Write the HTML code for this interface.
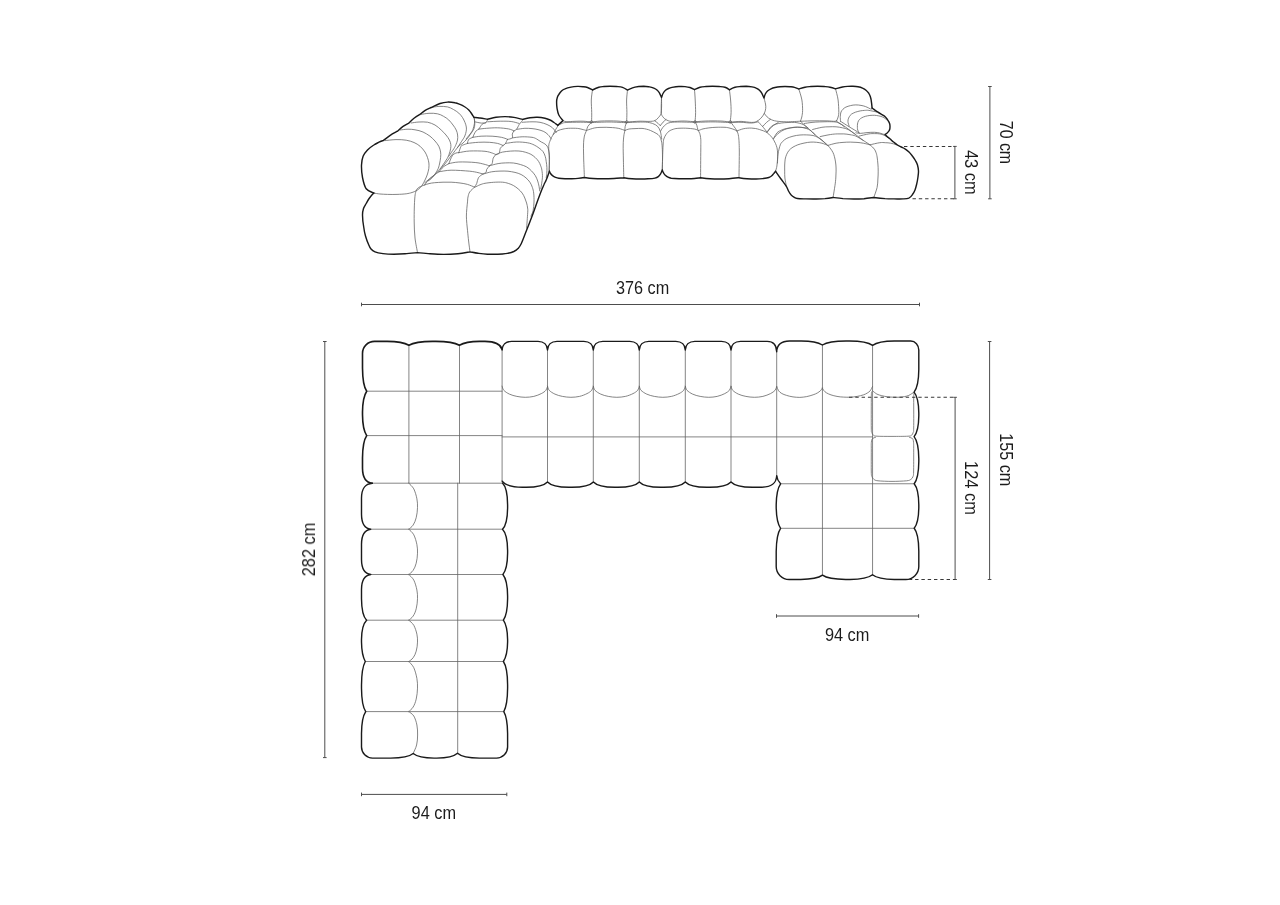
<!DOCTYPE html>
<html lang="en">
<head>
<meta charset="utf-8">
<title>Sofa dimensions</title>
<style>
html,body{margin:0;padding:0;background:#fff;}
body{width:1280px;height:905px;overflow:hidden;font-family:"Liberation Sans",sans-serif;}
svg{display:block;}
.k{fill:none;stroke:#1a1a1a;stroke-width:1.6;stroke-linecap:round;stroke-linejoin:round;}
.p{fill:none;stroke:#1a1a1a;stroke-width:1.42;stroke-linecap:round;stroke-linejoin:round;}
.n{fill:none;stroke:#626262;stroke-width:0.78;stroke-linecap:round;stroke-linejoin:round;}
.d{fill:none;stroke:#4d4d4d;stroke-width:1;}
.s{fill:none;stroke:#383838;stroke-width:1.05;stroke-dasharray:3.4 2.9;}
.t{opacity:.999;}
text{font-family:"Liberation Sans",sans-serif;fill:#1c1c1c;}
</style>
</head>
<body>
<svg width="1280" height="905" viewBox="0 0 1280 905">
<rect width="1280" height="905" fill="#ffffff"/>
<g class="n">
<path d="M408.9,345.3L408.9,483.2"/>
<path d="M459.5,345.3L459.5,483.2"/>
<path d="M366.7,391.2L502.1,391.2"/>
<path d="M366.7,435.6L502.1,435.6"/>
<path d="M372.3,483.2L502.5,483.2"/>
<path d="M502.1,350L502.1,481.2"/>
<path d="M547.5,350L547.5,481.9"/>
<path d="M593.3,350L593.3,481.9"/>
<path d="M639.3,350L639.3,481.9"/>
<path d="M685.3,350L685.3,481.9"/>
<path d="M731,350L731,481.9"/>
<path d="M776.7,351.8L776.7,476"/>
<path d="M502.1,436.9L872.5,436.9"/>
<path d="M502.1,386.1C502.4,386.8 502.6,389 503.8,390.3C505,391.6 507.2,393.1 509.4,394.1C511.6,395.1 514.2,395.9 516.9,396.4C519.5,396.9 522.5,397.3 525.3,397.3C528.1,397.3 531.1,397 533.8,396.4C536.5,395.8 539.3,394.6 541.3,393.6C543.3,392.6 544.9,391.5 545.9,390.3C546.9,389.1 547.2,387 547.5,386.4"/>
<path d="M547.5,386.1C547.8,386.8 548,389 549.2,390.3C550.4,391.6 552.7,393.1 554.9,394.1C557.1,395.1 559.8,395.9 562.4,396.4C565.1,396.9 568.1,397.3 570.9,397.3C573.7,397.3 576.8,397 579.5,396.4C582.2,395.8 585,394.6 587,393.6C589.1,392.6 590.6,391.5 591.7,390.3C592.7,389.1 593,387 593.3,386.4"/>
<path d="M593.3,386.1C593.6,386.8 593.8,389 595,390.3C596.3,391.6 598.5,393.1 600.7,394.1C602.9,395.1 605.6,395.9 608.3,396.4C611,396.9 614,397.3 616.8,397.3C619.7,397.3 622.7,397 625.4,396.4C628.1,395.8 631,394.6 633,393.6C635.1,392.6 636.6,391.5 637.7,390.3C638.7,389.1 639,387 639.3,386.4"/>
<path d="M639.3,386.1C639.6,386.8 639.8,389 641,390.3C642.3,391.6 644.5,393.1 646.7,394.1C648.9,395.1 651.6,395.9 654.3,396.4C657,396.9 660,397.3 662.8,397.3C665.7,397.3 668.7,397 671.4,396.4C674.1,395.8 677,394.6 679,393.6C681.1,392.6 682.6,391.5 683.7,390.3C684.7,389.1 685,387 685.3,386.4"/>
<path d="M685.3,386.1C685.6,386.8 685.8,389 687,390.3C688.2,391.6 690.5,393.1 692.6,394.1C694.8,395.1 697.5,395.9 700.2,396.4C702.9,396.9 705.8,397.3 708.7,397.3C711.5,397.3 714.5,397 717.2,396.4C719.9,395.8 722.7,394.6 724.8,393.6C726.8,392.6 728.3,391.5 729.4,390.3C730.4,389.1 730.7,387 731,386.4"/>
<path d="M731,386.1C731.3,386.8 731.5,389 732.7,390.3C733.9,391.6 736.2,393.1 738.3,394.1C740.5,395.1 743.2,395.9 745.9,396.4C748.6,396.9 751.5,397.3 754.4,397.3C757.2,397.3 760.2,397 762.9,396.4C765.6,395.8 768.4,394.6 770.5,393.6C772.5,392.6 774,391.5 775.1,390.3C776.1,389.1 776.4,387 776.7,386.4"/>
<path d="M776.9,386.8C777.2,387.5 777.8,389.7 778.6,390.8C779.4,391.9 780.5,392.7 781.8,393.5C783.1,394.3 784.7,394.8 786.6,395.4C788.5,396 790.8,396.6 793,396.9C795.2,397.2 797.5,397.4 799.8,397.4C802.1,397.3 804.5,397 806.7,396.6C808.9,396.2 811.3,395.4 813.1,394.8C814.9,394.2 816.1,393.7 817.3,393C818.5,392.3 819.5,391.6 820.4,390.8C821.2,390 822.1,388.5 822.4,388"/>
<path d="M822.4,388C822.6,388.4 823.1,389.7 823.8,390.5C824.5,391.3 825.2,392.1 826.4,392.8C827.6,393.5 829.2,394.3 831,394.9C832.8,395.5 834.9,396 837,396.4C839.1,396.8 841.3,397 843.5,397.1C845.7,397.2 848,397.3 850.3,397.2C852.6,397.1 855,396.8 857.2,396.4C859.4,396 861.9,395.4 863.6,394.8C865.3,394.2 866.2,393.7 867.3,393C868.4,392.3 869.3,391.9 870.2,390.8C871.1,389.7 872.1,387.2 872.5,386.5"/>
<path d="M872.6,390.8C873.3,391.4 875.4,393.3 876.9,394.1C878.4,394.9 880,395.2 881.8,395.7C883.6,396.1 885.5,396.6 887.5,396.8C889.5,397.1 891.5,397.1 893.5,397.2C895.5,397.3 897.7,397.3 899.5,397.2C901.3,397.1 903,396.9 904.5,396.6C906,396.3 907.2,396.1 908.8,395.4C910.4,394.6 913.2,392.7 914.1,392.1"/>
<path d="M822.45,345L822.45,575.2"/>
<path d="M872.55,345.3L872.55,574.8"/>
<path d="M780.6,483.75L914.2,483.75"/>
<path d="M780.6,528.3L914.2,528.3"/>
<path d="M871.5,392C871.5,393.3 871.3,394 871.3,400C871.3,406 871.2,422.6 871.3,428C871.4,433.4 871.4,431.3 871.8,432.5C872.2,433.7 872.6,434.7 873.5,435.3C874.4,435.9 873.9,436 877,436.2C880.1,436.4 886.8,436.4 892,436.4C897.2,436.4 904.8,436.4 908,436.2C911.2,436 910.6,435.9 911.5,435.3C912.4,434.7 912.8,433.7 913.2,432.5C913.6,431.3 913.6,433.4 913.7,428C913.8,422.6 913.7,405.8 913.7,400C913.7,394.2 913.9,394.2 913.9,393"/>
<path d="M875.5,437.4C875,437.6 873.2,437.8 872.5,438.6C871.8,439.4 871.6,440.1 871.4,442C871.2,443.9 871.3,445 871.3,450C871.3,455 871.2,467.6 871.3,472C871.4,476.4 871.5,475.3 871.9,476.5C872.3,477.7 872.8,478.6 873.8,479.3C874.8,480 875,480.5 878,480.8C881,481.1 887.2,481.4 892,481.4C896.8,481.4 903.3,481.1 906.5,480.8C909.7,480.5 909.9,480 911,479.3C912.1,478.6 912.6,477.7 913,476.5C913.4,475.3 913.5,476.4 913.6,472C913.7,467.6 913.7,455 913.7,450C913.7,445 913.7,443.9 913.5,442C913.3,440.1 913.2,439.4 912.5,438.6C911.8,437.8 910,437.6 909.5,437.4"/>
<path d="M457.7,483.2L457.7,753.2"/>
<path d="M370.7,529.2L502.5,529.2"/>
<path d="M370.8,574.5L502.9,574.5"/>
<path d="M366.6,620.2L503.4,620.2"/>
<path d="M365.3,661.5L503.4,661.5"/>
<path d="M365.7,711.6L503.8,711.6"/>
<path d="M408.8,483.2C409.6,484.1 412.4,486.3 413.8,488.9C415.1,491.5 416.3,495.7 416.9,498.8C417.5,502 417.6,504.4 417.5,507.6C417.4,510.7 417,514.8 416.2,517.7C415.5,520.6 414.4,523.1 413.1,525.1C411.9,527 409.5,528.5 408.8,529.2"/>
<path d="M408.8,529.2C409.6,530.1 412.4,532.2 413.8,534.8C415.1,537.3 416.3,541.5 416.9,544.6C417.5,547.7 417.6,550.1 417.5,553.2C417.4,556.3 417,560.3 416.2,563.2C415.5,566 414.4,568.5 413.1,570.4C411.9,572.3 409.5,573.8 408.8,574.5"/>
<path d="M408.8,574.5C409.6,575.4 412.4,577.5 413.8,580.1C415.1,582.7 416.3,586.9 416.9,590C417.5,593.1 417.6,595.6 417.5,598.7C417.4,601.8 417,605.9 416.2,608.8C415.5,611.7 414.4,614.2 413.1,616.1C411.9,618 409.5,619.5 408.8,620.2"/>
<path d="M408.8,620.2C409.6,621 412.4,622.9 413.8,625.3C415.1,627.6 416.3,631.4 416.9,634.2C417.5,637 417.6,639.3 417.5,642.1C417.4,644.9 417,648.6 416.2,651.2C415.5,653.8 414.4,656.1 413.1,657.8C411.9,659.5 409.5,660.9 408.8,661.5"/>
<path d="M408.8,661.5C409.6,662.5 412.4,664.8 413.8,667.7C415.1,670.5 416.3,675.1 416.9,678.5C417.5,681.9 417.6,684.6 417.5,688.1C417.4,691.5 417,695.9 416.2,699.1C415.5,702.2 414.4,705 413.1,707.1C411.9,709.2 409.5,710.8 408.8,711.6"/>
<path d="M408.8,711.6C409.6,712.3 412.4,713.8 413.8,716C415.1,718.2 416.3,721.8 416.9,725C417.5,728.2 417.7,731.7 417.6,735C417.6,738.3 417.4,741.9 416.6,745C415.9,748.1 413.7,752.1 413.1,753.5"/>
<path d="M385,140.6C386.8,140.4 392.5,139.7 396,139.6C399.5,139.5 403.2,139.7 406.2,140.2C409.2,140.7 411.7,141.5 414,142.5C416.3,143.5 418.2,144.7 420,146.2C421.8,147.8 423.8,150.1 425,152C426.2,153.9 426.9,155.7 427.5,157.5C428.1,159.3 428.7,161.2 428.9,163C429.1,164.8 429,166.7 428.8,168.5C428.5,170.3 428.1,172.1 427.5,174C426.9,175.9 425.9,178.1 425,180C424.1,181.9 423.2,183.8 422,185.5C420.8,187.2 419.2,188.8 417.5,190C415.8,191.2 413.9,191.9 412,192.5C410.1,193.1 408.8,193.4 406.2,193.8C403.8,194.1 400.1,194.3 397,194.4C393.9,194.5 390.3,194.5 387.5,194.4C384.7,194.3 382.3,194.2 380,194C377.7,193.8 374.8,193.2 373.8,193.1"/>
<path d="M400,130C401.3,129.9 405.5,129.2 408,129.2C410.5,129.2 412.5,129.3 415,129.8C417.5,130.2 420.5,130.9 423,132C425.5,133.1 428,134.8 430,136.2C432,137.8 433.5,139.3 435,141C436.5,142.7 437.8,144.4 438.8,146.2C439.7,148.1 440.3,150.1 440.6,152C440.9,153.9 440.8,155.5 440.6,157.5C440.4,159.5 440,161.9 439.5,164C439,166.1 438.7,167.8 437.5,170C436.3,172.2 434.1,175.7 432.5,177.5C430.9,179.3 428.8,180.4 428,181"/>
<path d="M411.2,123C412.5,122.8 416.3,122.1 419,122C421.7,121.9 424.8,121.8 427.5,122.2C430.2,122.8 432.7,123.7 435,125C437.3,126.3 439.4,128.3 441.2,130C443.1,131.7 444.6,133.3 446,135C447.4,136.7 448.6,138.4 449.4,140C450.2,141.6 450.6,143 450.8,144.5C451,146 450.9,147.1 450.6,148.8C450.3,150.4 449.7,152.6 449,154.5C448.3,156.4 447.8,157.6 446.2,160C444.8,162.4 441,167.5 440,169"/>
<path d="M421.2,114.4C422.5,114.2 426.3,113.4 429,113.3C431.7,113.2 435.1,113.2 437.5,113.8C439.9,114.2 441.6,115.3 443.5,116.3C445.4,117.3 447.2,118.5 448.8,120C450.3,121.5 451.8,123.3 453,125C454.2,126.7 455.5,128.3 456.2,130C457,131.7 457.4,133.3 457.6,135C457.8,136.7 457.8,138.4 457.5,140C457.2,141.6 456.6,143 456,144.5C455.4,146 455,146.8 453.8,148.8C452.5,150.7 449.6,155 448.8,156.2"/>
<path d="M431.2,107.5C432.5,107.3 436.3,106.5 439,106.4C441.7,106.3 445.1,106.4 447.5,106.9C449.9,107.4 451.6,108.5 453.5,109.5C455.4,110.5 457.2,111.8 458.8,113.1C460.2,114.4 461.5,115.9 462.5,117.5C463.5,119.1 464.4,120.9 465,122.5C465.6,124.1 466.1,125.5 466.3,127C466.5,128.5 466.5,129.8 466.2,131.2C466,132.8 465.4,134.5 464.8,136C464.2,137.5 463.7,138.1 462.5,140C461.3,141.9 458.3,146.2 457.5,147.5"/>
<path d="M473.8,116.9C473.9,117.4 474.5,118.9 474.6,120C474.7,121.1 474.6,122.3 474.4,123.8C474.2,125.2 473.7,127 473.2,128.5C472.7,130 472.4,130.8 471.2,132.5C470.1,134.2 467.1,137.7 466.2,138.8"/>
<path d="M474,117.1C474.1,118.2 474.8,121.7 474.8,123.7C474.8,125.7 474.5,127.3 473.8,129.1C473,130.9 471.3,132.9 470.2,134.6C469.1,136.2 468.3,137.4 466.9,139C465.5,140.6 463.4,142.7 462,143.9C460.6,145.1 460.6,144.1 458.8,146.1C456.9,148.1 453.7,152.6 451.1,155.9C448.5,159.2 446.1,162.7 443.4,165.8C440.7,168.9 437.8,171.7 434.7,174.5C431.6,177.3 426.4,181.3 424.8,182.7"/>
<path d="M487.7,119.3C487.4,119.8 486.9,121.8 486,122.6C485.1,123.4 483.4,123.1 482.2,124.2C481,125.3 479.4,128.3 478.9,129.1M478.9,129.1C478.4,129.4 477,130 476.2,130.8C475.4,131.6 474.8,132.9 474.2,134C473.6,135.1 473.1,136.8 472.9,137.3M472.9,137.3C472.2,137.7 469.5,138.5 468.6,139.5C467.7,140.5 467.7,142.8 467.5,143.4M467.5,143.4C466.8,143.7 464.2,144.5 463.1,145C462,145.5 461.6,145.2 460.9,146.5C460.2,147.8 459.1,151.7 458.8,152.7M458.8,152.7C458.3,152.8 457.1,152.5 456,153C454.9,153.5 453.4,154.1 452.2,155.9C451,157.7 449.4,162.3 448.9,163.6M448.9,163.6C448,164.2 445,165.5 443.4,166.9C441.8,168.3 439.7,171 439,171.8M439,171.8C438.1,172.4 435.4,174.2 433.6,175.6C431.8,177 429.5,178.9 428,180.5C426.5,182.1 425.3,184.2 424.8,184.9"/>
<path d="M474.6,121.8C475.8,122 479.8,123 481.7,123.1C483.6,123.2 485.3,122.7 486,122.6"/>
<path d="M523.2,119.6C522.6,120.4 520.5,122.6 519.4,124.2C518.3,125.8 517.6,128 516.7,129.1C515.8,130.2 514.4,130.7 513.9,131M513.9,131C513.6,131.5 512.6,132.8 512.3,134C512,135.2 513.1,137 512.3,137.9C511.5,138.8 508.2,139.2 507.4,139.5M507.4,139.5C507,140.2 505.9,142.9 505.2,143.9C504.5,144.9 503.4,145.2 503,145.5M503,145.5C502.6,146 500.9,147 500.3,148.3C499.7,149.6 499.9,152.1 499.2,153.2C498.5,154.2 496.4,154.4 495.9,154.6M495.9,154.6C495.4,155.2 493.8,156.6 493.2,158.1C492.6,159.6 492.7,162.3 492.1,163.6C491.5,164.9 489.8,165.4 489.4,165.8M489.4,165.8C488.9,166.4 487.2,168.5 486.6,169.6C486.1,170.7 486.7,171.6 486.1,172.3C485.5,173 483.4,173.7 482.8,174M482.8,174C482.1,174.6 479.4,176.2 478.4,177.8C477.4,179.4 477.4,181.8 476.8,183.3C476.2,184.9 475,186.5 474.6,187.1"/>
<path d="M487.7,121.8C489.8,121.7 496.4,121.2 500.3,121.2C504.2,121.2 508.1,121.1 511.2,121.5C514.3,121.9 517.6,123.1 518.9,123.4"/>
<path d="M478.9,129.1C480.2,129 483.5,128.5 486.6,128.3C489.7,128.1 493.9,127.7 497.5,127.8C501.1,127.9 505.8,128.4 508.5,128.9C511.2,129.4 513,130.5 513.9,130.8"/>
<path d="M472.9,137.3C474.3,137.1 477.9,136.4 481.1,136.2C484.3,136 488.7,136 492.1,136.2C495.5,136.4 498.8,136.8 501.4,137.3C503.9,137.8 506.4,138.9 507.4,139.2"/>
<path d="M467.5,143.4C469.3,143.2 474.8,142.5 478.4,142.3C482,142.1 486.1,142.1 489.3,142.3C492.5,142.5 495.2,142.9 497.5,143.4C499.8,143.9 502.1,145.2 503,145.5"/>
<path d="M458.8,152.7C460.6,152.4 465.3,151.2 469.7,151C474.1,150.8 481.2,150.9 485,151.3C488.8,151.7 490.8,152.6 492.6,153.2C494.4,153.8 495.3,154.4 495.9,154.6"/>
<path d="M448.9,163.6C450.5,163.3 454.4,162.2 458.8,162C463.1,161.8 471,162.1 475.2,162.5C479.4,162.9 481.6,163.6 484,164.2C486.4,164.8 488.5,165.5 489.4,165.8"/>
<path d="M439,171.8C441,171.5 446,170.3 451.1,170.2C456.2,170.1 465.2,170.8 469.7,171.2C474.2,171.7 475.8,172.1 478,172.6C480.2,173.1 482,173.8 482.8,174"/>
<path d="M424.8,184.9C425.5,184.7 427.4,184 429,183.6C430.6,183.2 432.4,182.9 434.7,182.7C437,182.5 440.3,182.3 443,182.2C445.7,182.1 448.3,182.1 451.1,182.2C453.9,182.3 457.3,182.6 460,183C462.7,183.4 465.1,183.7 467.5,184.4C469.9,185.1 473.4,186.7 474.6,187.1"/>
<path d="M522.1,122.3C523.8,122.2 529,121.8 532,121.8C535,121.8 537.5,121.8 540,122.3C542.5,122.8 544.9,123.6 547,124.5C549.1,125.4 551,126.5 552.5,127.8C554,129.1 555.6,131.7 556.2,132.5"/>
<path d="M516.7,129.4C518.1,129.2 522.4,128.4 524.9,128.3C527.4,128.2 529.8,128.4 532,128.6C534.2,128.8 536,129.1 538,129.6C540,130.1 542.1,130.7 543.8,131.5C545.4,132.3 546.7,133.3 548,134.6C549.3,135.8 550.8,138.3 551.3,139"/>
<path d="M512.3,137.9C513.9,137.7 518.8,136.9 522.1,136.8C525.4,136.7 529.6,137 532,137.3C534.4,137.7 535.2,138.2 536.5,138.9C537.8,139.6 538.4,140.2 540,141.2C541.6,142.3 544.8,143.5 546.2,145C547.7,146.5 548.1,148.2 548.6,150C549.1,151.8 549.4,153.7 549.5,155.9C549.6,158.1 549.5,160.6 549.4,163C549.3,165.4 549.1,169 549,170.2"/>
<path d="M505.7,143.4C507.5,143.2 513.1,142.1 516.7,142C520.4,141.9 524.7,142.3 527.6,142.8C530.5,143.3 532.3,144.1 534.2,145C536.1,145.9 537.5,146.9 539,148C540.5,149.1 542,150.2 543,151.6C544,153 544.7,154.7 545.2,156.3C545.7,157.9 546,159.5 546.2,161.4C546.5,163.3 546.8,165.5 546.9,167.5C547,169.5 546.9,171.7 546.8,173.4C546.7,175.1 546.3,177.1 546.2,177.8"/>
<path d="M496.5,154.3C497.5,153.9 500.2,152.6 502.5,152.1C504.8,151.6 507.8,151.3 510.5,151.1C513.2,150.9 516.4,150.8 518.9,151C521.4,151.2 523.3,151.6 525.3,152.2C527.3,152.8 529.2,153.4 530.9,154.3C532.5,155.2 533.9,156.3 535.2,157.5C536.5,158.7 537.7,160 538.6,161.4C539.5,162.8 540.2,164.3 540.7,165.8C541.2,167.3 541.6,168.2 541.9,170.2C542.2,172.2 542.6,174.7 542.4,177.8C542.2,180.9 541.1,186.9 540.8,188.8"/>
<path d="M489.4,165.8C490.8,165.4 495.4,164.1 498.1,163.6C500.8,163.1 502.9,163 505.5,162.9C508.1,162.8 510.9,162.7 513.4,163C515.9,163.3 518.1,163.8 520.3,164.5C522.5,165.2 524.8,165.8 526.6,166.9C528.5,168 530,169.4 531.4,170.8C532.8,172.2 534.2,173.9 535.3,175.6C536.3,177.3 537.1,179.2 537.7,181C538.3,182.8 538.8,184.9 539.1,186.6C539.4,188.2 539.6,190.2 539.7,190.9"/>
<path d="M483.4,174C484.8,173.6 488.8,172.3 491.6,171.8C494.4,171.3 497.3,171.2 500,171.1C502.7,171 505.5,171 508,171.2C510.5,171.5 512.8,171.9 515,172.4C517.2,172.9 519.3,173.6 521.1,174.5C522.9,175.4 524.5,176.6 526,177.9C527.5,179.2 528.8,180.6 529.9,182.2C531,183.8 531.8,185.7 532.4,187.5C533,189.3 533.4,190.7 533.7,193.1C534,195.5 534.1,199.1 534,202C533.9,204.9 533.6,208.2 533.1,210.6C532.6,212.9 531.3,215.2 530.9,216.1"/>
<path d="M417.5,252.5C417.1,250.1 415.6,243.1 415,238C414.4,232.9 414.3,227 414.2,222C414.1,217 414.2,212 414.3,208C414.4,204 414.6,200.6 414.8,198C415,195.4 415.2,194 415.6,192.5C416,191 416.4,189.8 417.2,188.8C418,187.8 419.2,187.1 420.5,186.5C421.8,185.9 424.1,185.2 424.8,184.9"/>
<path d="M474.6,187.1C473.8,187.9 470.8,190.3 469.7,192C468.6,193.7 468.4,195.3 468,197C467.6,198.7 467.8,198.7 467.5,201.9C467.2,205.1 466.4,211.4 466.4,216.1C466.4,220.8 467.1,226.2 467.5,230.3C467.9,234.5 468.2,237.4 468.6,241C469,244.6 469.8,250.1 470,251.9"/>
<path d="M475.2,187.1C476,186.7 478.4,185.4 480,184.8C481.6,184.2 482.8,183.7 485,183.3C487.2,182.9 490.6,182.5 493.5,182.3C496.4,182.1 500,182 502.5,182.2C505,182.4 506.5,182.8 508.3,183.4C510.1,184 511.8,184.6 513.4,185.5C515,186.4 516.7,187.6 518.2,188.9C519.7,190.2 521.1,191.6 522.2,193.1C523.3,194.6 524.1,196.3 524.8,198C525.5,199.7 526.1,201.3 526.6,203C527.1,204.7 527.4,206.4 527.6,208C527.8,209.6 527.9,209.5 527.7,212.8C527.5,216.2 526.8,225.6 526.6,228.1"/>
<path d="M592.5,90C592.3,91.7 591.4,96.2 591.3,100C591.2,103.8 591.7,109 591.7,112.5C591.8,116 591.6,119.6 591.6,121"/>
<path d="M627.5,90C627.4,91.7 626.7,96.2 626.6,100C626.5,103.8 626.9,109 626.9,112.5C626.9,116 626.7,119.6 626.7,121"/>
<path d="M694.5,89.7C694.6,91.4 695.1,96.2 695.2,100C695.4,103.8 695.6,109 695.6,112.5C695.6,116 695.2,119.6 695.1,121"/>
<path d="M729.4,89.8C729.6,91.5 730.3,96.2 730.6,100C730.9,103.8 731.2,109 731.1,112.5C731,116 730.4,119.6 730.3,121"/>
<path d="M798.8,89C799.3,90.8 801.3,96.4 801.9,100C802.5,103.6 802.6,107.7 802.6,110.5C802.6,113.3 802.1,115.2 801.8,117C801.4,118.8 800.7,120.3 800.5,121"/>
<path d="M835.5,88.8C835.9,90.7 837.6,96 838.1,100C838.6,104 838.8,109.5 838.8,112.5C838.7,115.5 838.2,116.6 837.8,118C837.4,119.4 836.7,120.5 836.5,121"/>
<path d="M589.9,121.8L591.5,120.5L593.1,121.8L591.5,123.1Z"/>
<path d="M625.1,121.8L626.7,120.5L628.3,121.8L626.7,123.1Z"/>
<path d="M693.5,121.8L695.1,120.5L696.7,121.8L695.1,123.1Z"/>
<path d="M728.8,121.8L730.4,120.5L732,121.8L730.4,123.1Z"/>
<path d="M661.5,97.5C661.5,98.9 661.3,103.3 661.2,106C661.1,108.7 661.5,111.6 661,113.6C660.5,115.6 659.2,116.6 658.2,117.8C657.2,119 656.2,120.1 654.7,120.7C653.2,121.3 651.5,121.3 649,121.4C646.5,121.5 643.7,121.1 640,121.2C636.3,121.3 628.9,121.9 626.7,122"/>
<path d="M661.5,97.5C661.5,98.9 661.6,103.3 661.6,106C661.6,108.7 661.1,111.8 661.4,113.6C661.6,115.4 662.4,116.1 663.1,117.1C663.9,118.1 664.5,118.9 665.9,119.6C667.3,120.3 668.5,121.2 671.6,121.4C674.7,121.6 680.3,120.9 684.2,121C688.1,121.1 693.3,121.7 695.1,121.8"/>
<path d="M654.7,120.7C655.3,121.2 657.3,122.7 658.2,123.5C659.1,124.3 659.9,125.2 660.3,125.6M665.9,119.6C665.4,120 664,121.1 663.1,122.1C662.2,123.1 660.8,125 660.3,125.6"/>
<path d="M764,98C764.2,99 765.2,102.2 765.5,104C765.8,105.8 765.9,106.9 765.7,108.5C765.5,110.1 765.1,111.8 764.3,113.4C763.5,115 762.1,117 760.8,118.3C759.5,119.6 758.1,120.7 756.6,121.4C755.1,122.1 754.2,122.4 751.6,122.4C749,122.4 744.6,121.5 741.1,121.4C737.6,121.4 732.2,122 730.4,122.1"/>
<path d="M764.3,113.4C764.8,114 766,115.9 767.1,116.9C768.2,117.9 769.1,118.6 770.6,119.3C772.1,120 773.5,120.7 776.2,121.1C779,121.5 782.8,121.8 786.8,121.8C790.8,121.8 798.2,121.3 800.5,121.2"/>
<path d="M758,121.8C758.7,122.5 760.7,124.2 762.2,126C763.7,127.8 766.3,131.2 767.1,132.3"/>
<path d="M770.6,119.3C769.9,119.8 767.7,121.3 766.4,122.5C765.1,123.7 763.5,125.7 762.9,126.3"/>
<path d="M778.4,122.3C777.3,123 773.9,125 772,126.7C770.1,128.4 767.9,131.4 767.1,132.3"/>
<path d="M562.6,120.3C563.2,120.5 564,121.4 566.1,121.6C568.2,121.8 572.2,121.4 575,121.3C577.8,121.2 580.2,121.1 583,121.2C585.8,121.3 590.1,121.9 591.5,122"/>
<path d="M591.5,122C592.9,121.8 597.1,121.3 600,121.1C602.9,120.9 606,120.9 609,120.9C612,120.9 615,120.9 618,121.1C621,121.3 625.2,121.8 626.7,122"/>
<path d="M695.1,121.8C696.6,121.7 701,121.2 704,121.1C707,120.9 710,120.9 713,120.9C716,120.9 719.1,120.9 722,121.1C724.9,121.3 729,121.9 730.4,122.1"/>
<path d="M558,125.6C558.7,125.2 560.6,123.9 562,123.4C563.4,122.9 563.1,122.7 566.1,122.5C569.1,122.3 576,122.2 580.2,122.2C584.4,122.2 589.5,122.5 591.4,122.6"/>
<path d="M591.4,122.6C594.3,122.5 603.1,122 609,122C614.9,122 623.7,122.6 626.6,122.7"/>
<path d="M626.6,122.7C628,122.6 631.9,122.3 635,122.2C638.1,122.1 642.6,121.9 645.5,122.1C648.4,122.3 650.6,122.8 652.6,123.5C654.6,124.2 656.2,125 657.5,126.3C658.8,127.6 659.6,129.1 660.3,131.2C661,133.3 661.5,137.7 661.7,139"/>
<path d="M695.1,122.4C692.1,122.3 681.6,121.9 677.2,122C672.8,122.1 670.9,122.3 668.8,122.9C666.6,123.5 665.7,124.6 664.5,125.6C663.3,126.6 662.3,128.2 661.7,129.1C661.1,130 660.9,130.8 660.7,131.2"/>
<path d="M695.1,122.4C698.1,122.3 707.1,121.9 713,121.9C718.9,121.9 727.5,122.5 730.4,122.6"/>
<path d="M730.4,122.6C732.2,122.5 737.5,122.2 741,122.3C744.5,122.4 748.8,123.1 751.6,123C754.4,122.9 756.9,122 758,121.8"/>
<path d="M591.4,122.4C590.8,123.1 588.7,125 587.9,126.3C587.1,127.6 587.1,128.9 586.5,130.5C585.9,132.1 584.9,133.7 584.4,136.1C583.9,138.5 583.6,141 583.5,145C583.4,149 583.6,154.6 583.7,160C583.9,165.4 584.3,174.6 584.4,177.5"/>
<path d="M626.6,122.4C626.4,123.1 625.5,125 625.2,126.3C624.9,127.6 625,128.9 624.8,130.5C624.6,132.1 624.1,133.7 623.8,136.1C623.5,138.5 623.3,141 623.2,145C623.1,149 623.3,154.5 623.4,160C623.5,165.5 623.7,174.8 623.8,177.8"/>
<path d="M695.1,121.7C695.4,122.3 696.4,124.2 696.9,125.6C697.4,126.9 697.4,128.5 697.9,129.8C698.4,131.1 699.2,131.7 699.7,133.3C700.2,134.9 700.6,136.8 700.8,139.6C700.9,142.4 700.8,143.7 700.8,150C700.7,156.3 700.6,172.9 700.6,177.5"/>
<path d="M730.5,121.8C731.1,122.6 733,125.2 734.1,126.7C735.2,128.2 736.1,129.2 736.9,130.9C737.6,132.6 738.2,133.4 738.6,136.6C739,139.8 739.2,143.2 739.3,150C739.4,156.8 739,172.9 739,177.5"/>
<path d="M558,125.8C557.6,126.5 556.3,128.4 555.5,129.8C554.7,131.2 553.6,133.6 553.2,134.4"/>
<path d="M549.4,171C549.4,168.8 549.3,162.1 549.2,158C549.1,153.9 548.6,149.3 548.7,146.6C548.8,143.8 549.3,143.1 549.8,141.5C550.3,139.9 550.9,138.7 551.6,137.3C552.4,135.9 553.2,134.4 554.3,133.3C555.4,132.2 556.5,131.3 558,130.6C559.5,129.9 561.2,129.5 563,129.1C564.8,128.7 566.2,128.4 568.6,128.3C571,128.2 575.3,128.2 577.5,128.4C579.7,128.6 580.5,129 582,129.3C583.5,129.7 585.8,130.3 586.5,130.5"/>
<path d="M587.2,130.2C588.4,129.8 592.1,128.5 594.2,128C596.3,127.5 598,127.5 600,127.4C602,127.3 604.1,127.3 606.2,127.3C608.3,127.3 610.4,127.4 612.5,127.6C614.6,127.8 616.7,127.9 618.8,128.4C620.9,128.9 624.1,130.2 625.2,130.5"/>
<path d="M624.8,130.5C625.5,130.2 627.3,129.3 629,129C630.7,128.7 632.8,128.7 635,128.6C637.2,128.5 640.1,128.3 642,128.4C643.9,128.5 645.1,128.8 646.5,129.2C647.9,129.5 648.9,129.8 650.5,130.5C652.1,131.2 654.6,132.4 656.1,133.3C657.6,134.2 658.7,134.8 659.6,136.1C660.5,137.4 661,139.2 661.4,141C661.8,142.8 662,144.2 662.2,147C662.4,149.8 662.5,154.2 662.5,158C662.5,161.8 662.3,168 662.3,170"/>
<path d="M662.3,170C662.3,168 662.5,162.2 662.6,158C662.7,153.8 662.9,148.2 663.1,145C663.3,141.8 663.3,140.7 663.8,139C664.3,137.3 665.2,135.8 665.9,134.7C666.6,133.6 667.1,133 667.8,132.3C668.5,131.6 669.2,131 670.2,130.5C671.2,130 672.3,129.5 673.5,129.2C674.7,128.8 675.2,128.6 677.2,128.4C679.2,128.2 682.7,128.1 685.6,128.2C688.5,128.3 692.7,128.7 694.8,129.1C696.9,129.5 697.7,130.3 698.3,130.5"/>
<path d="M698.5,130.6C699.2,130.3 701.3,129.3 703,128.9C704.7,128.5 706.6,128.2 708.8,127.9C711,127.6 713.3,127.4 716,127.3C718.7,127.2 722.7,127.2 725,127.3C727.3,127.4 728.5,127.8 730,128.2C731.5,128.6 732.9,129 734.1,129.5C735.3,130 736.5,130.8 737,131"/>
<path d="M736.9,130.9C738,130.6 741.4,129.2 743.2,128.8C745,128.4 746.1,128.3 747.5,128.2C748.9,128.1 750.3,128 751.6,128.1C752.9,128.2 754.2,128.3 755.5,128.5C756.8,128.7 758.1,129.1 759.4,129.5C760.7,129.9 762,130.3 763.3,130.8C764.6,131.3 765.9,131.9 767.1,132.7C768.3,133.5 769.5,134.7 770.5,135.8C771.5,136.9 772.6,138.1 773.4,139.4C774.2,140.7 774.9,142.1 775.5,143.5C776.1,144.9 776.6,146.1 777,147.8C777.4,149.6 777.6,152 777.7,154C777.8,156 777.6,158 777.5,160C777.4,162 777.2,164.1 776.9,166C776.6,167.9 775.8,170.4 775.6,171.2"/>
<path d="M800.5,121.3C802.1,121.2 806.8,121 810,120.9C813.2,120.8 816.7,120.8 819.7,120.8C822.7,120.8 825.5,120.8 828,120.9C830.5,121 833.6,121.4 835,121.3C836.4,121.2 836.3,120.4 836.6,120.2"/>
<path d="M800.5,121.3C801.7,122.4 805.2,125.6 807.7,127.9C810.2,130.2 812.9,132.9 815.3,135C817.7,137.1 819.9,138.9 821.9,140.5C823.9,142.1 825.7,143.2 827.3,144.8C828.9,146.4 830.6,148.7 831.7,150.3C832.8,151.9 833.2,153 833.8,154.5C834.3,156 834.6,157.3 835,159.1C835.4,160.8 835.7,163 835.9,165C836.1,167 836.1,168.9 836.1,171.1C836.1,173.3 836,175.6 835.8,178C835.6,180.4 835.5,182.1 835,185.3C834.5,188.6 833.4,195.5 833.1,197.5"/>
<path d="M836.6,121.3C838.1,122.3 842.9,125.2 845.9,127.3C848.9,129.4 851.8,131.7 854.7,133.9C857.6,136.1 860.9,138.7 863.4,140.5C865.9,142.3 868.2,143.4 870,144.8C871.8,146.2 873.4,147.9 874.4,149.2C875.4,150.5 875.6,151.5 876.1,152.8C876.6,154.1 876.8,155 877.1,156.9C877.4,158.8 877.7,161.6 877.9,164C878.1,166.4 878.2,168.6 878.2,171.1C878.2,173.6 878.1,176.3 877.9,179C877.7,181.7 877.8,184.4 877.1,187.5C876.4,190.6 874.3,195.8 873.8,197.5"/>
<path d="M767.2,131.7C767.9,130.8 770.1,127.5 771.6,126.2C773.1,124.9 774.4,124.6 776,124.1C777.6,123.6 779.4,123.3 781.4,123C783.4,122.7 785.8,122.6 788,122.5C790.2,122.4 792.6,122.3 794.5,122.4C796.4,122.5 797.7,122.8 799.2,123.2C800.7,123.6 801.9,123.8 803.3,124.6C804.7,125.4 807,127.4 807.7,127.9"/>
<path d="M773.8,138.3C774.3,137.4 775.7,134.2 777,132.8C778.3,131.4 779.9,130.8 781.5,130.1C783.1,129.4 784.8,128.8 786.9,128.4C789,128 791.6,127.7 794,127.5C796.4,127.3 799.1,127.1 801.1,127.3C803.1,127.5 804.7,128 806.3,128.5C807.9,129.1 809.4,129.5 810.9,130.6C812.4,131.7 814.6,134.3 815.3,135"/>
<path d="M777.5,163C777.6,161.5 777.5,157 778,154C778.5,151 779.5,146.9 780.3,144.8C781.1,142.7 781.9,142.3 783,141.2C784.1,140.1 785.2,139.1 786.9,138.3C788.6,137.5 790.8,136.8 793,136.2C795.2,135.6 797.7,135.2 800,135C802.3,134.8 804.5,134.8 806.7,134.9C808.9,135 811.2,135.1 813.1,135.5C815,135.9 816.3,136.6 817.8,137.3C819.3,138 820.5,138.7 821.9,139.9C823.3,141.1 825.5,143.6 826.2,144.3"/>
<path d="M786.3,186C786.1,184.7 785.2,180.5 784.9,178C784.6,175.5 784.7,173.3 784.7,171.1C784.7,168.9 784.6,167 784.7,165C784.8,163 784.9,160.9 785.2,159.1C785.5,157.3 786.1,155.8 786.7,154.3C787.4,152.8 788.1,151.5 789.1,150.3C790.1,149.1 791.5,148 793,147.1C794.5,146.2 796,145.5 797.8,144.8C799.6,144.1 801.8,143.6 804,143.1C806.2,142.6 808.8,142.2 810.9,142.1C813,142 814.7,142.1 816.5,142.3C818.3,142.5 820,142.7 821.9,143.2C823.8,143.7 826.9,145 827.9,145.4"/>
<path d="M804.4,123.5C805.7,123.3 809.5,122.7 812,122.4C814.5,122.1 817.1,122 819.7,121.9C822.3,121.8 825,121.7 827.5,121.7C830,121.7 833.1,121.7 835,121.9C836.9,122.1 837.5,122.5 838.6,123C839.7,123.5 840.7,124 841.6,124.6C842.5,125.2 843.8,126.4 844.3,126.8"/>
<path d="M812.6,129.5C814.1,129.1 819.2,127.8 821.9,127.3C824.6,126.8 826.6,126.9 829,126.8C831.4,126.7 833.9,126.6 836.1,126.8C838.3,127 840.4,127.3 842.4,127.8C844.4,128.2 846,128.5 848.1,129.5C850.2,130.5 853.6,133.2 854.7,133.9"/>
<path d="M820.2,136.6C821.9,136.2 827.8,134.9 830.6,134.5C833.4,134.1 835,134 837.2,133.9C839.4,133.8 841.6,133.8 843.8,133.9C845.9,134 848,134.3 850,134.7C852,135.1 853.6,135.1 855.8,136.1C858,137.1 862.1,139.8 863.4,140.5"/>
<path d="M827.9,145.4C829.3,145 833.6,143.7 836.1,143.2C838.6,142.7 840.6,142.6 843,142.4C845.4,142.2 848,142.1 850.3,142.1C852.6,142.1 854.8,142.2 857,142.4C859.2,142.6 861.2,142.8 863.4,143.2C865.6,143.6 868.9,144.5 870,144.8"/>
<path d="M859.1,136.1C860.7,135.7 866.4,134.3 868.9,133.9C871.4,133.5 872.6,133.6 874.4,133.6C876.2,133.6 878.2,133.6 879.8,133.9C881.4,134.2 882.7,134.6 884,135.2C885.3,135.8 886.4,136.5 887.5,137.2C888.6,137.9 890,139.2 890.5,139.6"/>
<path d="M870,144.8C871.6,144.5 877.2,143 879.8,142.7C882.3,142.3 883.5,142.6 885.3,142.7C887.1,142.8 889,142.8 890.8,143.2C892.6,143.5 894.7,144.2 896.2,144.8C897.8,145.4 899.4,146.2 900,146.5"/>
<path d="M840.5,121.3C840.5,120.5 840.2,117.8 840.3,116.3C840.4,114.8 840.5,113.2 841,112C841.5,110.8 842.2,110 843,109.2C843.8,108.4 844.6,107.7 845.9,107.1C847.1,106.5 848.9,106 850.5,105.6C852.1,105.2 854,104.9 855.8,104.9C857.5,104.9 859.4,105.1 861,105.4C862.6,105.7 863.9,105.9 865.6,106.6C867.3,107.2 870.2,108.8 871.1,109.3"/>
<path d="M849.2,126.2C849,125.6 848.3,123.9 848.1,122.8C847.9,121.7 847.9,120.7 848.1,119.7C848.3,118.7 848.8,117.6 849.3,116.7C849.8,115.8 850.4,115 851.4,114.2C852.4,113.5 853.9,112.8 855.4,112.2C856.9,111.7 858.7,111.2 860.2,110.9C861.7,110.6 863.2,110.5 864.6,110.4C866,110.3 866.9,110.1 868.9,110.4C870.9,110.7 875.3,111.7 876.6,112"/>
<path d="M859.1,132.8C858.9,132.3 858,130.9 857.7,130C857.4,129.1 857.4,128.3 857.4,127.3C857.4,126.3 857.3,125.1 857.5,124C857.7,122.9 858,121.7 858.5,120.8C859,119.9 859.7,119.2 860.5,118.6C861.3,118 862.2,117.5 863.4,117C864.6,116.5 866.1,116.1 867.6,115.8C869.1,115.5 870.7,115.3 872.2,115.3C873.7,115.2 875.2,115.3 876.6,115.5C878,115.7 879.7,116 880.9,116.4C882.1,116.8 883.1,117.2 884,117.7C884.9,118.2 886,119.4 886.4,119.7"/>
<path d="M840.5,121.3C842,122.2 846.1,124.9 849.2,126.8C852.3,128.7 857.5,131.8 859.1,132.8"/>
<path d="M855.8,132.8C856.5,132.9 858.3,133.4 860.2,133.4C862.1,133.4 864.6,132.8 867,132.6C869.4,132.4 872.3,132.2 874.4,132.3C876.5,132.4 878,132.6 879.6,133C881.2,133.4 883.4,134.2 884.2,134.5"/>
<path d="M807.9,128.1C806.1,127.9 800.1,127.2 797.4,127.1C794.7,127 793.6,127.3 791.8,127.6C790,127.9 788.3,128.4 786.8,128.8C785.3,129.2 784.2,129.7 783,130.3C781.8,130.9 781,131.4 779.8,132.3C778.6,133.2 776.7,134.8 775.6,135.9C774.5,137 773.8,138.5 773.4,139"/>
</g>
<g class="k">
<path d="M502,349.3C500.7,344.7 496.4,341.5 485,341.4L479.4,341.4C470.2,341.5 463,343.2 459.4,345.3C455.8,343.2 448.6,341.5 435.7,341.4L432.6,341.4C419.7,341.5 412.5,343.2 408.9,345.3C405.3,343.2 398.1,341.5 387.1,341.4L374.5,341.4C367.9,341.4 362.5,346.8 362.5,353.4L362.5,367.9C362.6,380.9 364.4,387.8 366.7,391.2C364.4,394.7 362.6,401.6 362.5,412.1L362.5,414.8C362.6,425.2 364.4,432.2 366.7,435.6C364.4,439 362.6,446 362.5,458L362.5,468.2C362.6,479.2 366.4,482.6 372.3,483.2"/>
</g>
<g class="p">
<path d="M372.3,483.2C365.8,483.8 361.6,487.2 361.5,498.2L361.5,514.2C361.6,525.2 365.2,528.6 370.7,529.2C365.2,529.8 361.6,533.2 361.5,544.2L361.5,559.5C361.6,570.5 365.2,573.9 370.8,574.5C365.2,575.1 361.6,578.5 361.5,589.5L361.5,598.7C361.6,611 363.7,617.3 366.6,620.2C363.7,623.1 361.6,629.4 361.5,639.6L361.5,642.1C361.6,650.6 363.2,657.8 365.3,661.5C363.2,665.2 361.6,672.4 361.5,685L361.5,688.3C361.6,701.2 363.4,708.2 365.7,711.6C363.4,715 361.6,722 361.5,733.5L361.5,747.1C361.5,753.1 366.4,758.1 372.5,758.1L390.6,758.1C403.4,758 410,756.1 413.2,753.5C416.4,756.1 423,758 434,758.1L436.7,758.1C448,758 454.5,755.9 457.5,753.2C460.5,755.9 467,758 479.6,758.1L496.6,758.1C502.7,758.1 507.6,753.1 507.6,747.1L507.6,733.5C507.5,722.4 505.9,715.2 503.8,711.6C505.9,708 507.5,700.8 507.6,688.1L507.6,684.8C507.5,671.9 505.7,664.9 503.4,661.5C505.7,658.1 507.5,651.1 507.6,642.1L507.6,639.6C507.5,630.6 505.7,623.6 503.4,620.2C505.7,616.8 507.5,609.8 507.6,598.7L507.6,596C507.5,584.2 505.5,577.7 502.9,574.5C505.5,571.3 507.5,564.8 507.6,553.3L507.6,550.5C507.5,538.5 505.4,532.2 502.5,529.3C505.4,526.4 507.5,520.1 507.6,507.6L507.6,504.8C507.5,492.3 505.4,486 502.5,483.1"/>
<path d="M502.1,350C502.3,345 505.6,341.4 511.6,341.4L538,341.4C544,341.4 547.3,345 547.5,350M547.5,350C547.7,345 551,341.4 557,341.4L583.8,341.4C589.8,341.4 593.1,345 593.3,350M593.3,350C593.5,345 596.8,341.4 602.8,341.4L629.8,341.4C635.8,341.4 639.1,345 639.3,350M639.3,350C639.5,345 642.8,341.4 648.8,341.4L675.8,341.4C681.8,341.4 685.1,345 685.3,350M685.3,350C685.5,345 688.8,341.4 694.8,341.4L721.5,341.4C727.5,341.4 730.8,345 731,350M731,350C731.2,345 734.5,341.4 740.5,341.4L767.2,341.4C773.2,341.4 776.5,345 776.7,351.8M776.7,351.8C776.9,346.2 780.3,341.1 789.5,341L801.3,341C811.8,341.1 818.8,342.8 822.4,345C826,342.8 833,341.1 846,341L849.4,341C862.4,341.1 869.2,342.9 872.6,345.3C876,342.9 882.8,341.1 894.3,341L910.8,341C915.2,341 918.8,345.1 918.8,350L918.8,369.6C918.7,382.4 916.7,388.9 914.1,392.1C916.7,395.3 918.7,401.8 918.8,413L918.8,415.7C918.7,426.9 916.7,433.4 914.1,436.6C916.7,439.8 918.7,446.3 918.8,458.8L918.8,461.6C918.7,473.9 916.8,480.5 914.2,483.8C916.8,487 918.7,493.6 918.8,504.7L918.8,507.4C918.7,518.4 916.8,525.1 914.2,528.3C916.8,531.5 918.7,538.2 918.8,551L918.8,566.5C918.8,573.6 912.9,579.5 905.8,579.5L894.3,579.5C882.2,579.4 875.7,577.4 872.5,574.8C869.3,577.4 862.8,579.4 850,579.5L845.7,579.5C832.7,579.4 825.9,577.6 822.5,575.2C819.1,577.6 812.3,579.4 800.8,579.5L789.2,579.5C782.1,579.5 776.2,573.6 776.2,566.5L776.2,551.4C776.4,538.5 778.2,531.7 780.6,528.3C778.2,524.9 776.4,518.1 776.2,507.4L776.2,504.7C776.4,493.9 778.2,487.1 780.6,483.8C778.6,481.8 777.2,479.5 776.7,476"/>
<path d="M502.2,481.2C504.6,484.6 510.2,487.1 522.4,487.2L526.2,487.2C538.6,487.1 544.7,484.9 547.5,481.9C550.3,484.9 556.4,487.1 568.9,487.2L572,487.2C584.5,487.1 590.6,484.9 593.4,481.9C596.2,484.9 602.3,487.1 614.8,487.2L617.9,487.2C630.4,487.1 636.5,484.9 639.3,481.9C642.1,484.9 648.2,487.1 660.7,487.2L663.9,487.2C676.4,487.1 682.5,484.9 685.3,481.9C688.1,484.9 694.2,487.1 706.7,487.2L709.6,487.2C722.1,487.1 728.2,484.9 731,481.9C733.8,484.9 739.9,487.1 752.4,487.2L761.7,487.2C772.7,487.1 776.1,482.8 776.7,476"/>
<path d="M373.8,193.1C372.5,192.4 368.1,191.3 366.2,188.8C364.4,186.2 363.3,181.5 362.5,177.5C361.7,173.5 361.4,168.5 361.5,165C361.6,161.5 362.1,158.8 363.1,156.2C364.1,153.8 365.7,151.9 367.5,150C369.3,148.1 371.8,146.3 373.8,145C375.7,143.7 377.4,143 379,142.2C380.6,141.4 382.8,140.7 383.5,140.4M383.5,140.4C384.6,139.6 387.9,136.8 390.2,135.3C392.5,133.8 396.3,131.9 397.5,131.2M397.5,131.2C398.4,130.5 400.8,128 402.7,126.6C404.6,125.2 407.7,123.7 408.8,123.1M408.8,123.1C409.6,122.3 412.1,119.7 414,118.2C415.9,116.8 419,115 420,114.4M420,114.4C420.9,113.7 423.3,111.5 425.2,110.3C427.1,109.1 430.2,108 431.2,107.5M431.2,107.5C432.7,106.8 437.3,104.4 440,103.5C442.7,102.6 445,102.2 447.5,102.1C450,102 452.9,102.4 455,102.8C457.1,103.1 458.3,103.7 460,104.4C461.7,105.1 463.5,106.1 465,107C466.5,107.9 467.7,108.9 468.8,110C469.8,111.1 470.7,112.3 471.5,113.5C472.3,114.7 473.4,116.6 473.8,117.2M473.8,117.2C474.8,117.3 477.7,117.7 480,118C482.3,118.3 486.2,119.1 487.5,119.3M487.5,119.3C488.9,119 493.1,117.8 496,117.3C498.9,116.8 502,116.6 505,116.6C508,116.6 511.1,116.9 514,117.4C516.9,117.9 521.1,119.1 522.5,119.4M522.5,119.4C523.8,119.1 527.5,118.2 530,117.8C532.5,117.4 535,117.2 537.5,117.3C540,117.4 542.9,117.8 545,118.2C547.1,118.7 548.5,119.3 550,120C551.5,120.7 552.7,121.6 554,122.5C555.3,123.4 557.2,124.8 557.8,125.2"/>
<path d="M549.4,171.2C548.9,172.7 547.2,177.7 546.2,180C545.3,182.3 545,182.1 543.8,185C542.5,187.9 540.6,192.5 538.8,197.5C536.9,202.5 534.6,209.4 532.5,215C530.4,220.6 528.1,226.5 526.2,231.2C524.4,236 522.6,240.9 521.2,243.8C519.9,246.6 519.2,247.2 518,248.5C516.8,249.8 515.4,250.7 513.8,251.5C512.1,252.3 509.9,252.9 508,253.3C506.1,253.7 505.9,253.8 502.5,254C499.1,254.2 491.6,254.3 487.5,254.2C483.4,254.1 480.9,253.7 478,253.3C475.1,252.9 471.3,252.1 470,251.9M470,251.9C468,252.2 462.4,253.3 458,253.7C453.6,254.1 448.4,254.4 443.8,254.4C439.1,254.4 434.4,254.1 430,253.8C425.6,253.5 419.6,252.8 417.5,252.6M417.5,252.6C415.4,252.8 409,253.5 405,253.8C401,254.1 397.4,254.2 393.8,254.2C390.1,254.2 386.1,254 383,253.6C379.9,253.2 377,252.7 375,251.9C373,251.1 372,250.2 371,249C370,247.8 369.7,247.2 368.8,245C367.8,242.8 366.3,238.9 365.5,236C364.7,233.1 364.2,231 363.8,227.5C363.2,224 362.5,218.2 362.5,215C362.5,211.8 362.9,210.4 363.5,208.5C364.1,206.6 365.2,205.2 366.2,203.5C367.2,201.8 368.2,199.7 369.5,198C370.8,196.3 373,193.9 373.8,193.1"/>
<path d="M557.8,125.2L563,120.6M563,120.6C562.3,119.7 559.8,117.1 558.8,115C557.8,112.9 557.4,110.2 557,108C556.6,105.8 556.6,103.8 556.6,102C556.6,100.2 556.9,98.8 557.3,97.5C557.7,96.2 558,95.6 558.8,94.5C559.5,93.4 560.5,92 561.5,91C562.5,90 563.4,89.4 565,88.8C566.6,88.1 568.9,87.5 571,87.1C573.1,86.7 575.5,86.5 577.5,86.4C579.5,86.3 581.3,86.5 583,86.7C584.7,86.9 585.9,87 587.5,87.5C589.1,88 591.7,89.6 592.5,90M592.5,90C593.5,89.5 596.8,87.9 598.8,87.3C600.7,86.7 602.1,86.7 604,86.5C605.9,86.3 607.9,86.2 610,86.2C612.1,86.2 614.4,86.3 616.5,86.5C618.6,86.7 620.7,86.7 622.5,87.3C624.3,87.9 626.7,89.5 627.5,90M627.5,90C628.8,89.5 632.3,87.7 635,87.1C637.7,86.5 641.3,86.3 643.8,86.2C646.2,86.2 647.8,86.6 649.5,86.9C651.2,87.2 652.5,87.6 653.8,88.1C655,88.6 656.1,89.2 657,90C657.9,90.8 658.6,91.5 659.4,92.8C660.1,94 661.1,96.7 661.5,97.5M661.5,97.5C661.8,96.8 662.3,94.7 663,93.5C663.7,92.3 664.6,91.1 665.5,90.3C666.4,89.5 667.4,89 668.5,88.5C669.6,88 670.3,87.7 672,87.4C673.7,87.1 676.6,86.6 678.8,86.5C680.9,86.4 683.1,86.4 685,86.6C686.9,86.8 688.4,87 690,87.5C691.6,88 693.8,89.2 694.6,89.6M694.6,89.6C695.5,89.2 698.1,87.8 700,87.3C701.9,86.8 703.9,86.7 706,86.5C708.1,86.3 710.3,86.2 712.5,86.2C714.7,86.2 716.9,86.3 719,86.5C721.1,86.7 723.3,86.8 725,87.3C726.7,87.8 728.7,89.3 729.4,89.8M729.4,89.8C730.3,89.3 733.1,87.8 735,87.3C736.9,86.8 738.6,86.7 740.5,86.5C742.4,86.3 744.3,86.2 746.2,86.2C748.2,86.3 750.3,86.6 752,86.9C753.7,87.2 755,87.5 756.2,88.1C757.5,88.7 758.6,89.4 759.5,90.3C760.4,91.2 761.1,92 761.9,93.3C762.6,94.6 763.6,97.2 764,98M764,98C764.2,97.3 764.7,95.2 765.3,94C765.9,92.8 766.5,91.9 767.5,91C768.5,90.1 769.8,89.4 771,88.8C772.2,88.2 773.5,87.8 775,87.5C776.5,87.2 778.3,86.9 780,86.7C781.7,86.5 783.3,86.5 785,86.5C786.7,86.5 788.4,86.5 790,86.7C791.6,86.9 793,87 794.5,87.4C796,87.8 798,88.7 798.8,89M798.8,89C799.8,88.7 803,87.6 805,87.2C807,86.8 808.9,86.7 811,86.5C813.1,86.3 815.3,86.2 817.5,86.2C819.7,86.2 821.9,86.3 824,86.5C826.1,86.7 828.1,86.8 830,87.2C831.9,87.6 834.6,88.5 835.5,88.8M835.5,88.8C836.7,88.5 840.5,87.4 842.5,87C844.5,86.6 845.8,86.5 847.5,86.4C849.2,86.3 850.8,86.2 852.5,86.3C854.2,86.4 856.3,86.5 858,86.8C859.7,87.1 861.2,87.5 862.5,88.1C863.8,88.7 865,89.4 866,90.3C867,91.2 868,92.3 868.8,93.3C869.5,94.3 869.9,95.3 870.3,96.5C870.7,97.7 871,98.4 871.2,100.3C871.5,102.2 872,106.8 872.1,108.1"/>
<path d="M549.4,171.2C549.6,171.6 550,172.8 550.5,173.5C551,174.2 551.7,175 552.5,175.6C553.3,176.2 554.5,176.9 555.5,177.3C556.5,177.7 557.2,178 558.8,178.2C560.3,178.4 562.9,178.6 565,178.7C567.1,178.8 569.1,178.8 571.2,178.8C573.4,178.7 575.8,178.6 578,178.4C580.2,178.2 583.3,177.7 584.4,177.5M584.4,177.5C585.8,177.7 590,178.3 593,178.5C596,178.7 599,178.8 602.5,178.8C606,178.8 610.5,178.7 614,178.5C617.5,178.3 622.1,177.8 623.8,177.7M623.8,177.7C625.1,177.9 629.3,178.5 632,178.7C634.7,178.9 637.3,179 640,179C642.7,179 645.5,179 648,178.8C650.5,178.7 653.3,178.5 655,178.1C656.7,177.7 657.4,177.3 658.3,176.6C659.2,175.9 659.9,174.9 660.6,173.8C661.3,172.7 662,170.6 662.3,170M662.3,170C662.5,170.5 663,172 663.5,172.8C664,173.6 664.2,174.3 665,175C665.8,175.7 667,176.7 668,177.2C669,177.7 669.4,177.9 671.2,178.2C673.1,178.4 676.3,178.6 679,178.7C681.7,178.8 684.9,178.8 687.5,178.8C690.1,178.8 692.3,178.7 694.5,178.5C696.7,178.3 699.6,177.8 700.6,177.7M700.6,177.7C702.2,177.9 707,178.5 710,178.7C713,178.9 715.6,179 718.8,179C721.9,179 725.7,178.9 729,178.7C732.3,178.5 737.1,177.9 738.8,177.7M738.8,177.7C740.1,177.9 744.1,178.5 747,178.7C749.9,178.9 753.6,179 756.2,179C758.9,179 760.9,178.8 763,178.6C765.1,178.3 767.3,178 768.8,177.5C770.2,177 771,176.5 771.8,175.8C772.6,175.1 773.1,174.2 773.8,173.5C774.4,172.8 775.3,171.7 775.6,171.3"/>
<path d="M872.1,108.1C873,108.7 875.6,110.7 877.5,111.9C879.4,113.2 882.3,114.6 883.8,115.6C885.2,116.6 885.6,117.2 886.3,118C887,118.8 887.5,119.7 888.1,120.6C888.7,121.5 889.3,122.6 889.6,123.5C889.9,124.4 890,125.3 890,126.2C890,127.2 890,128.2 889.8,129C889.6,129.8 889.2,130.6 888.8,131.2C888.3,131.9 887.8,132.5 887.2,133C886.6,133.5 885.4,134.2 885,134.4M885,134.4C885.4,134.8 886.5,136.1 887.3,136.8C888.1,137.5 889,137.9 890,138.8C891,139.6 892.2,141 893.5,142C894.8,143 896.2,144.2 897.5,145C898.8,145.8 900,146.4 901.3,147C902.5,147.6 903.7,147.9 905,148.8C906.3,149.6 907.8,150.8 909,152C910.2,153.2 911.4,154.8 912.5,156.2C913.6,157.7 914.6,159 915.4,160.5C916.2,162 917,163.2 917.5,165C918,166.8 918.4,168.9 918.5,171C918.6,173.1 918.2,175.3 917.9,177.5C917.6,179.7 917.2,181.9 916.7,184C916.2,186.1 915.7,188.2 915,190C914.3,191.8 913.3,193.5 912.3,194.8C911.3,196.2 910.3,197.4 908.8,198.1C907.2,198.8 904.9,198.8 903,198.9C901.1,199.1 900.5,199.1 897.5,199C894.5,198.9 889,198.8 885,198.6C881,198.3 875.6,197.7 873.8,197.5M873.8,197.5C872.1,197.7 867.3,198.4 864,198.7C860.7,198.9 857.2,199 853.8,199C850.2,199 846.4,198.8 843,198.6C839.6,198.3 834.8,197.7 833.1,197.5M833.1,197.5C831.8,197.7 827.8,198.3 825,198.6C822.2,198.8 819.4,198.9 816.2,199C813.1,199.1 809.1,199 806,198.9C802.9,198.8 799.5,198.8 797.5,198.5C795.5,198.2 795,197.8 794,197.2C793,196.6 792.2,196 791.2,195C790.3,194 789.3,192.5 788.5,191C787.7,189.5 787.5,188.2 786.2,186.2C785,184.2 782.8,181.5 781,179C779.2,176.5 776.5,172.6 775.6,171.3"/>
</g>
<g class="d">
<path d="M361.5,304.5L919.5,304.5M361.5,302.7L361.5,306.3M919.5,302.7L919.5,306.3"/>
<path d="M324.8,341.5L324.8,757.6M323,341.5L326.6,341.5M323,757.6L326.6,757.6"/>
<path d="M361.5,794.4L506.8,794.4M361.5,792.6L361.5,796.2M506.8,792.6L506.8,796.2"/>
<path d="M776.5,616L918.6,616M776.5,614.2L776.5,617.8M918.6,614.2L918.6,617.8"/>
<path d="M989.6,341.5L989.6,579.5M987.8,341.5L991.4,341.5M987.8,579.5L991.4,579.5"/>
<path d="M955.1,397.3L955.1,579.5M953.3,397.3L956.9,397.3M953.3,579.5L956.9,579.5"/>
<path d="M989.9,86.5L989.9,198.8M988.1,86.5L991.7,86.5M988.1,198.8L991.7,198.8"/>
<path d="M954.9,146.4L954.9,198.8M953.1,146.4L956.7,146.4M953.1,198.8L956.7,198.8"/>
</g>
<g class="s">
<path d="M849,397.3L955.1,397.3"/>
<path d="M908.8,579.5L955.1,579.5"/>
<path d="M904,146.4L954.9,146.4"/>
<path d="M912.5,198.8L954.9,198.8"/>
</g>
<g class="t">
<text x="616" y="294.4" textLength="53.2" lengthAdjust="spacingAndGlyphs" font-size="18.1">376 cm</text>
<text x="411.6" y="818.9" textLength="44.4" lengthAdjust="spacingAndGlyphs" font-size="18.1">94 cm</text>
<text x="824.9" y="640.7" textLength="44.5" lengthAdjust="spacingAndGlyphs" font-size="18.1">94 cm</text>
<text transform="translate(315,576.3) rotate(-90)" x="0" y="0" textLength="53.6" lengthAdjust="spacingAndGlyphs" font-size="18.1">282 cm</text>
<text transform="translate(1000.1,433.2) rotate(90)" x="0" y="0" textLength="53.1" lengthAdjust="spacingAndGlyphs" font-size="18.1">155 cm</text>
<text transform="translate(965.3,461.1) rotate(90)" x="0" y="0" textLength="53.8" lengthAdjust="spacingAndGlyphs" font-size="18.1">124 cm</text>
<text transform="translate(1000.4,120.8) rotate(90)" x="0" y="0" textLength="43.3" lengthAdjust="spacingAndGlyphs" font-size="18.1">70 cm</text>
<text transform="translate(965.1,149.9) rotate(90)" x="0" y="0" textLength="44.7" lengthAdjust="spacingAndGlyphs" font-size="18.1">43 cm</text>
</g>
</svg>
</body>
</html>
